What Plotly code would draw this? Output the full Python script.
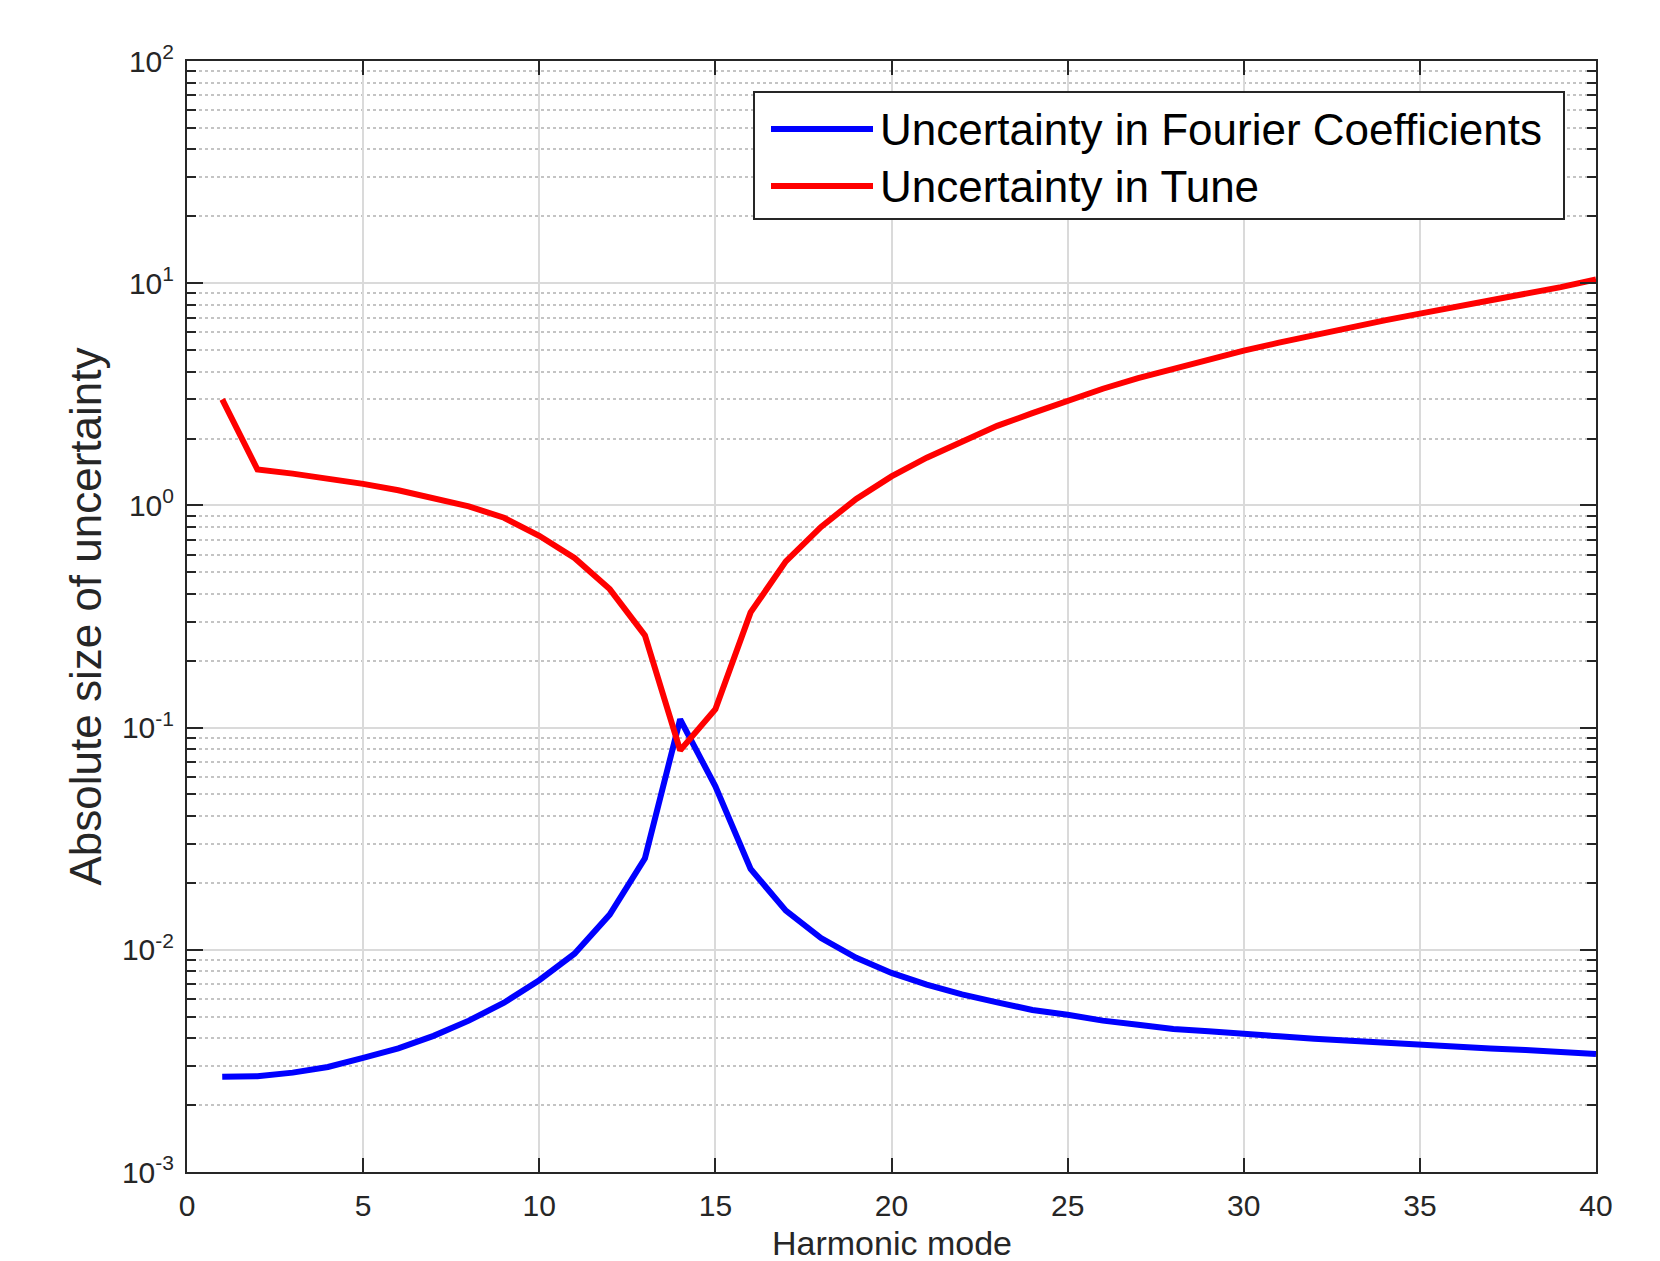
import plotly.graph_objects as go

# ---- data ----
harmonic_mode = list(range(1, 41))
fourier_uncertainty = [
    0.00268, 0.00270, 0.00280, 0.00297, 0.00326, 0.00360, 0.00410, 0.00480, 0.00578, 0.00730,
    0.00960, 0.01440, 0.02580, 0.10900, 0.05440, 0.02310, 0.01500, 0.01130, 0.00920, 0.00787,
    0.00697, 0.00630, 0.00580, 0.00536, 0.00510, 0.00480, 0.00460, 0.00440, 0.00430, 0.00416,
    0.00408, 0.00398, 0.00389, 0.00381, 0.00373, 0.00366, 0.00360, 0.00354, 0.00347, 0.00340,
]
tune_uncertainty = [
    3.00, 1.45, 1.39, 1.32, 1.25, 1.17, 1.08, 0.99, 0.88, 0.73,
    0.58, 0.42, 0.26, 0.079, 0.121, 0.33, 0.56, 0.80, 1.07, 1.35,
    1.64, 1.95, 2.28, 2.60, 2.97, 3.35, 3.74, 4.12, 4.55, 4.97,
    5.40, 5.86, 6.35, 6.80, 7.30, 7.80, 8.30, 8.85, 9.60, 10.40,
]
series_names = ["Uncertainty in Fourier Coefficients", "Uncertainty in Tune"]
series_colors = ["#0000ff", "#ff0000"]
x_title = "Harmonic mode"
y_title = "Absolute size of uncertainty"

x_ticks = [0, 5, 10, 15, 20, 25, 30, 35, 40]
y_tick_exponents = [-3, -2, -1, 0, 1, 2]
y_tickvals = [10.0 ** e for e in y_tick_exponents]
y_ticktext = ["10<sup>%d</sup>" % e for e in y_tick_exponents]
y_minor_vals = [k * 10.0 ** e for e in range(-3, 2) for k in range(2, 10)]

# ---- layout geometry (pixels) ----
W, H = 1660, 1261
L, R, T, B = 187, 64, 61, 89
PW, PH = W - L - R, H - T - B


def px(xp):
    return (xp - L) / PW


def py(yp):
    return 1 - (yp - T) / PH


AX = "#262626"
FONT = "Liberation Sans, Arial, Helvetica, sans-serif"
LW = 6

fig = go.Figure()
for name, ys, col in zip(series_names, [fourier_uncertainty, tune_uncertainty], series_colors):
    fig.add_trace(go.Scatter(x=harmonic_mode, y=ys, mode="lines", name=name,
                             line=dict(color=col, width=LW), showlegend=False))

fig.update_layout(
    width=W, height=H,
    margin=dict(l=L, r=R, t=T, b=B),
    paper_bgcolor="white", plot_bgcolor="white",
    font=dict(family=FONT, color=AX, size=30),
    xaxis=dict(
        range=[0, 40], tickvals=x_ticks, ticks="inside", ticklen=14, tickwidth=2,
        tickcolor=AX, showline=True, linecolor=AX, linewidth=2, mirror="allticks",
        showgrid=True, gridcolor="#dadada", gridwidth=2, zeroline=False,
        tickfont=dict(size=30, color=AX), ticklabelstandoff=6, automargin=False,
    ),
    yaxis=dict(
        type="log", range=[-3, 2], tickvals=y_tickvals, ticktext=y_ticktext,
        ticks="inside", ticklen=16, tickwidth=2, tickcolor=AX,
        showline=True, linecolor=AX, linewidth=2, mirror="allticks",
        showgrid=True, gridcolor="#dadada", gridwidth=2, zeroline=False,
        tickfont=dict(size=30, color=AX), ticklabelstandoff=5, automargin=False,
        minor=dict(tickvals=y_minor_vals, ticks="inside", ticklen=9, tickwidth=2,
                   tickcolor=AX, showgrid=True, gridcolor="#c4c4c4", gridwidth=1.5,
                   griddash="dot"),
        title=dict(text=y_title, font=dict(size=44, color=AX), standoff=7),
    ),
)

# ---- x-axis title placed as annotation (below the margin constraint) ----
annotations = [dict(xref="paper", yref="paper", x=0.5, y=py(1243),
                    xanchor="center", yanchor="middle", showarrow=False,
                    text=x_title, font=dict(family=FONT, size=34, color=AX))]

# ---- manual legend box (matching long sample lines) ----
box = dict(x0=754, y0=92, x1=1564, y1=219)
shapes = [dict(type="rect", xref="paper", yref="paper",
               x0=px(box["x0"]), x1=px(box["x1"]), y0=py(box["y1"]), y1=py(box["y0"]),
               line=dict(color=AX, width=2), fillcolor="white", layer="above")]
row_y = [129, 186]
for name, col, ry in zip(series_names, series_colors, row_y):
    shapes.append(dict(type="line", xref="paper", yref="paper",
                       x0=px(771), x1=px(873), y0=py(ry), y1=py(ry),
                       line=dict(color=col, width=LW), layer="above"))
    annotations.append(dict(xref="paper", yref="paper", x=px(878), y=py(ry),
                            xanchor="left", yanchor="middle", showarrow=False,
                            text=name,
                            font=dict(family=FONT, size=44, color="black")))
fig.update_layout(shapes=shapes, annotations=annotations)

fig.write_html("out.html", config={"displayModeBar": False},
               post_script="document.body.style.margin='0';document.body.style.overflow='hidden';")
